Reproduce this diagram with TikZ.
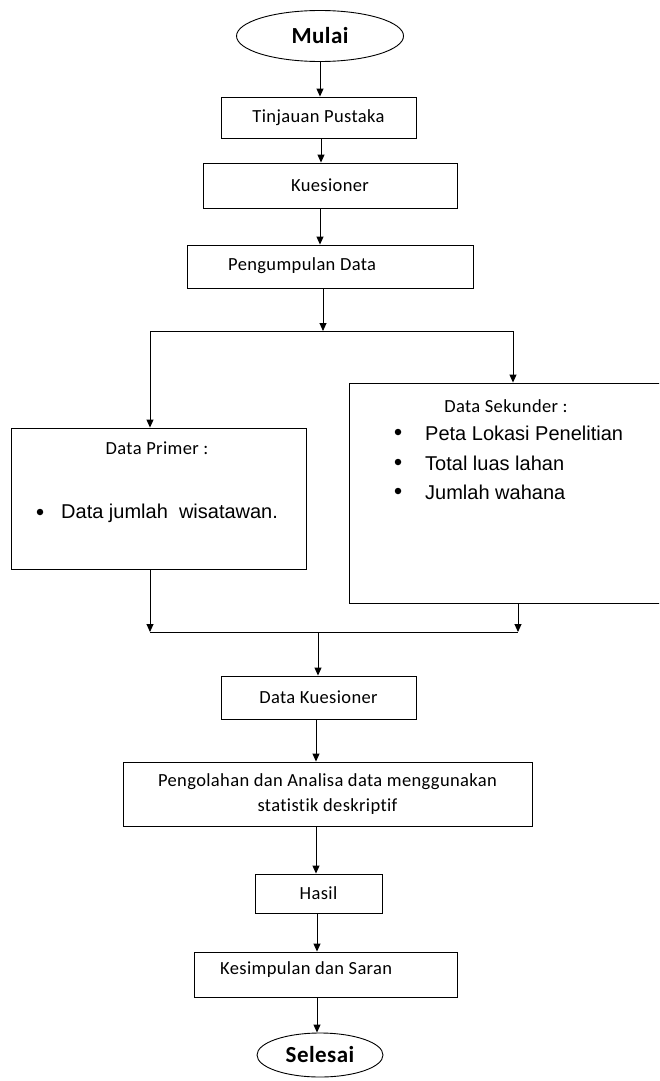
\documentclass[tikz,border=0pt]{standalone}
\usepackage{fontspec}
\setmainfont[Ligatures={NoCommon},LetterSpace=2]{Carlito}
\newfontfamily\arialf{Liberation Sans}
\usetikzlibrary{arrows.meta,shapes.geometric}
\begin{document}
\begin{tikzpicture}[x=1pt,y=-1pt,
  box/.style={draw,line width=0.9pt,inner sep=0pt,font=\fontsize{18.5}{22}\selectfont},
  term/.style={draw,ellipse,line width=0.9pt,inner sep=0pt,font=\bfseries\fontsize{23}{27}\selectfont},
  txt/.style={inner sep=0pt,font=\fontsize{18.5}{22}\selectfont},
  atxt/.style={inner sep=0pt,anchor=west,font=\arialf\fontsize{20}{24}\selectfont},
  bul/.style={circle,fill,inner sep=0pt,minimum size=6.5pt},
  arr/.style={line width=0.9pt,-{Triangle[width=7pt,length=8pt]}},
  ln/.style={line width=0.9pt}]
\useasboundingbox (0,0) rectangle (659,1081);
\clip (0,0) rectangle (659,1081);
\fill[white] (0,0) rectangle (659,1081);

% nodes
\node[term,minimum width=167,minimum height=51] (mulai) at (320,36) {Mulai};
\node[box,minimum width=195,minimum height=41] (tin) at (318.5,117.5) {Tinjauan Pustaka};
\node[box,minimum width=254,minimum height=45] (kues) at (330,185.5) {Kuesioner};
\node[box,minimum width=286,minimum height=43] (peng) at (330,266.5) {};
\node[txt,anchor=west] (pengt) at (228,266) {Pengumpulan Data};

\node[box,minimum width=295,minimum height=141] (prim) at (158.5,498.5) {};
\node[txt] (primt) at (157,448) {Data Primer :};
\node[bul] (pb1) at (40,512) {};
\node[atxt] (pt1) at (61,513) {Data jumlah\ \ wisatawan.};

\node[box,minimum width=331,minimum height=220] (sek) at (514.5,493) {};
\node[txt] (sekt) at (506,406) {Data Sekunder :};
\node[bul] (sb1) at (398,432) {};
\node[atxt] (st1) at (425,433) {Peta Lokasi Penelitian};
\node[bul] (sb2) at (398,462) {};
\node[atxt] (st2) at (425,463) {Total luas lahan};
\node[bul] (sb3) at (398,491) {};
\node[atxt] (st3) at (425,492) {Jumlah wahana};

\node[box,minimum width=195,minimum height=43] (dk) at (318.5,697.5) {Data Kuesioner};
\node[box,minimum width=409,minimum height=64,align=center] (pen) at (327.5,794) {Pengolahan dan Analisa data menggunakan\\[3pt]statistik deskriptif};
\node[box,minimum width=127,minimum height=39] (hasil) at (318.5,893.5) {Hasil};
\node[box,minimum width=263,minimum height=45] (kes) at (325.5,974.5) {};
\node[txt,anchor=west] (kest) at (220,970) {Kesimpulan dan Saran};
\node[term,minimum width=126,minimum height=44] (sel) at (320,1055) {Selesai};

% junction coordinates
\coordinate (j1) at (323,331);
\coordinate (jl) at (150,331);
\coordinate (jr) at (513,331);
\coordinate (kl) at (150,632);
\coordinate (kr) at (518,632);
\coordinate (km) at (318,632);

% connectors
\draw[arr] (mulai.south) -- (mulai.south |- tin.north);
\draw[arr] (321,0 |- tin.south) -- (321,0 |- kues.north);
\draw[arr] (320,0 |- kues.south) -- (320,0 |- peng.north);
\draw[arr] (j1 |- peng.south) -- (j1);
\draw[ln] (jl) -- (jr);
\draw[arr] (jl) -- (jl |- prim.north);
\draw[arr] (jr) -- (jr |- sek.north);
\draw[arr] (kl |- prim.south) -- (kl);
\draw[arr] (kr |- sek.south) -- (kr);
\draw[ln] (kl) -- (kr);
\draw[arr] (km) -- (km |- dk.north);
\draw[arr] (316,0 |- dk.south) -- (316,0 |- pen.north);
\draw[arr] (316,0 |- pen.south) -- (316,0 |- hasil.north);
\draw[arr] (317,0 |- hasil.south) -- (317,0 |- kes.north);
\draw[arr] (317,0 |- kes.south) -- (317,0 |- sel.north);
\end{tikzpicture}
\end{document}
